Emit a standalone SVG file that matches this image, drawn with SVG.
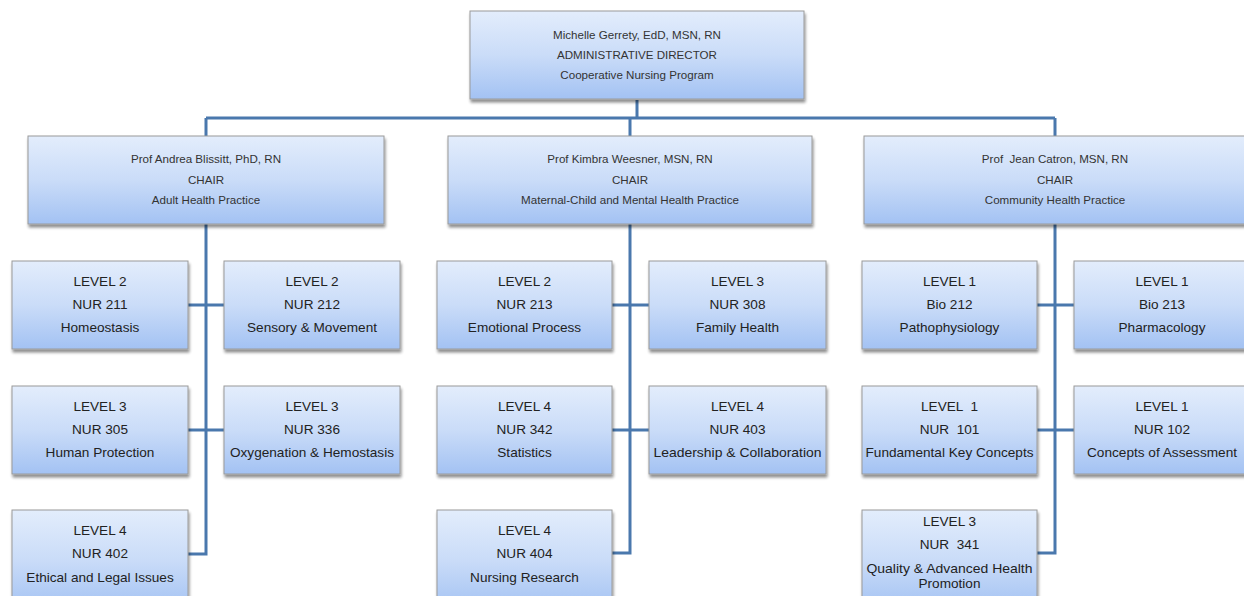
<svg xmlns="http://www.w3.org/2000/svg" width="1244" height="596" viewBox="0 0 1244 596">
<defs>
<linearGradient id="g" x1="0" y1="0" x2="0" y2="1">
<stop offset="0" stop-color="#e3edfc"/>
<stop offset="0.5" stop-color="#cadcf8"/>
<stop offset="1" stop-color="#a3c2f3"/>
</linearGradient>
<filter id="sh" x="-5%" y="-5%" width="115%" height="125%">
<feGaussianBlur in="SourceAlpha" stdDeviation="1.5"/>
<feOffset dx="1" dy="2.5" result="b"/>
<feComponentTransfer><feFuncA type="linear" slope="0.45"/></feComponentTransfer>
<feMerge><feMergeNode/><feMergeNode in="SourceGraphic"/></feMerge>
</filter>
</defs>
<style>
.box{fill:url(#g);stroke:#9a9a9a;stroke-width:1;filter:url(#sh)}
.c{fill:none;stroke:#4a78ad;stroke-width:3}
text{font-family:"Liberation Sans",Arial,sans-serif;fill:#222222;text-anchor:middle;white-space:pre}
.s{font-size:11.6px;fill:#333333}
.m{font-size:13.6px}
</style>
<rect width="1244" height="596" fill="#ffffff"/>
<g id="connectors">
<path class="c" d="M637 100V118M206 118H1055M206 118V136M630 118V136M1055 118V136"/>
<path class="c" d="M206 224V554H188M188 305H224M188 430H224"/>
<path class="c" d="M630 224V553H612M612 305H649M612 430H649"/>
<path class="c" d="M1055 224V553H1037M1037 305H1074M1037 430H1074"/>
</g>
<g id="director">
<rect class="box" x="470" y="11" width="334" height="88"/>
<text class="s" x="637" y="39">Michelle Gerrety, EdD, MSN, RN</text>
<text class="s" x="637" y="59">ADMINISTRATIVE DIRECTOR</text>
<text class="s" x="637" y="79">Cooperative Nursing Program</text>
</g>
<g id="chair-adult">
<rect class="box" x="28" y="136" width="356" height="88"/>
<text class="s" x="206" y="163">Prof Andrea Blissitt, PhD, RN</text>
<text class="s" x="206" y="183.5">CHAIR</text>
<text class="s" x="206" y="204">Adult Health Practice</text>
</g>
<g id="chair-maternal">
<rect class="box" x="448" y="136" width="364" height="88"/>
<text class="s" x="630" y="163">Prof Kimbra Weesner, MSN, RN</text>
<text class="s" x="630" y="183.5">CHAIR</text>
<text class="s" x="630" y="204">Maternal-Child and Mental Health Practice</text>
</g>
<g id="chair-community">
<rect class="box" x="864" y="136" width="384" height="88"/>
<text class="s" x="1055" y="163">Prof  Jean Catron, MSN, RN</text>
<text class="s" x="1055" y="183.5">CHAIR</text>
<text class="s" x="1055" y="204">Community Health Practice</text>
</g>
<g id="nur211">
<rect class="box" x="12" y="261" width="176" height="88"/>
<text class="m" x="100" y="286">LEVEL 2</text>
<text class="m" x="100" y="309">NUR 211</text>
<text class="m" x="100" y="332">Homeostasis</text>
</g>
<g id="nur212">
<rect class="box" x="224" y="261" width="176" height="88"/>
<text class="m" x="312" y="286">LEVEL 2</text>
<text class="m" x="312" y="309">NUR 212</text>
<text class="m" x="312" y="332">Sensory &amp; Movement</text>
</g>
<g id="nur305">
<rect class="box" x="12" y="386" width="176" height="88"/>
<text class="m" x="100" y="411">LEVEL 3</text>
<text class="m" x="100" y="434">NUR 305</text>
<text class="m" x="100" y="457">Human Protection</text>
</g>
<g id="nur336">
<rect class="box" x="224" y="386" width="176" height="88"/>
<text class="m" x="312" y="411">LEVEL 3</text>
<text class="m" x="312" y="434">NUR 336</text>
<text class="m" x="312" y="457" textLength="164" lengthAdjust="spacingAndGlyphs">Oxygenation &amp; Hemostasis</text>
</g>
<g id="nur402">
<rect class="box" x="12" y="510" width="176" height="100"/>
<text class="m" x="100" y="535">LEVEL 4</text>
<text class="m" x="100" y="558">NUR 402</text>
<text class="m" x="100" y="582">Ethical and Legal Issues</text>
</g>
<g id="nur213">
<rect class="box" x="437" y="261" width="175" height="88"/>
<text class="m" x="524.5" y="286">LEVEL 2</text>
<text class="m" x="524.5" y="309">NUR 213</text>
<text class="m" x="524.5" y="332">Emotional Process</text>
</g>
<g id="nur308">
<rect class="box" x="649" y="261" width="177" height="88"/>
<text class="m" x="737.5" y="286">LEVEL 3</text>
<text class="m" x="737.5" y="309">NUR 308</text>
<text class="m" x="737.5" y="332">Family Health</text>
</g>
<g id="nur342">
<rect class="box" x="437" y="386" width="175" height="88"/>
<text class="m" x="524.5" y="411">LEVEL 4</text>
<text class="m" x="524.5" y="434">NUR 342</text>
<text class="m" x="524.5" y="457">Statistics</text>
</g>
<g id="nur403">
<rect class="box" x="649" y="386" width="177" height="88"/>
<text class="m" x="737.5" y="411">LEVEL 4</text>
<text class="m" x="737.5" y="434">NUR 403</text>
<text class="m" x="737.5" y="457" textLength="168" lengthAdjust="spacingAndGlyphs">Leadership &amp; Collaboration</text>
</g>
<g id="nur404">
<rect class="box" x="437" y="510" width="175" height="100"/>
<text class="m" x="524.5" y="535">LEVEL 4</text>
<text class="m" x="524.5" y="558">NUR 404</text>
<text class="m" x="524.5" y="582">Nursing Research</text>
</g>
<g id="bio212">
<rect class="box" x="862" y="261" width="175" height="88"/>
<text class="m" x="949.5" y="286">LEVEL 1</text>
<text class="m" x="949.5" y="309">Bio 212</text>
<text class="m" x="949.5" y="332">Pathophysiology</text>
</g>
<g id="bio213">
<rect class="box" x="1074" y="261" width="180" height="88"/>
<text class="m" x="1162" y="286">LEVEL 1</text>
<text class="m" x="1162" y="309">Bio 213</text>
<text class="m" x="1162" y="332">Pharmacology</text>
</g>
<g id="nur101">
<rect class="box" x="862" y="386" width="175" height="88"/>
<text class="m" x="949.5" y="411">LEVEL  1</text>
<text class="m" x="949.5" y="434">NUR  101</text>
<text class="m" x="949.5" y="457" textLength="168" lengthAdjust="spacingAndGlyphs">Fundamental Key Concepts</text>
</g>
<g id="nur102">
<rect class="box" x="1074" y="386" width="180" height="88"/>
<text class="m" x="1162" y="411">LEVEL 1</text>
<text class="m" x="1162" y="434">NUR 102</text>
<text class="m" x="1162" y="457" textLength="150" lengthAdjust="spacingAndGlyphs">Concepts of Assessment</text>
</g>
<g id="nur341">
<rect class="box" x="862" y="510" width="175" height="100"/>
<text class="m" x="949.5" y="526">LEVEL 3</text>
<text class="m" x="949.5" y="549">NUR  341</text>
<text class="m" x="949.5" y="573" textLength="166" lengthAdjust="spacingAndGlyphs">Quality &amp; Advanced Health</text>
<text class="m" x="949.5" y="588">Promotion</text>
</g>
</svg>
